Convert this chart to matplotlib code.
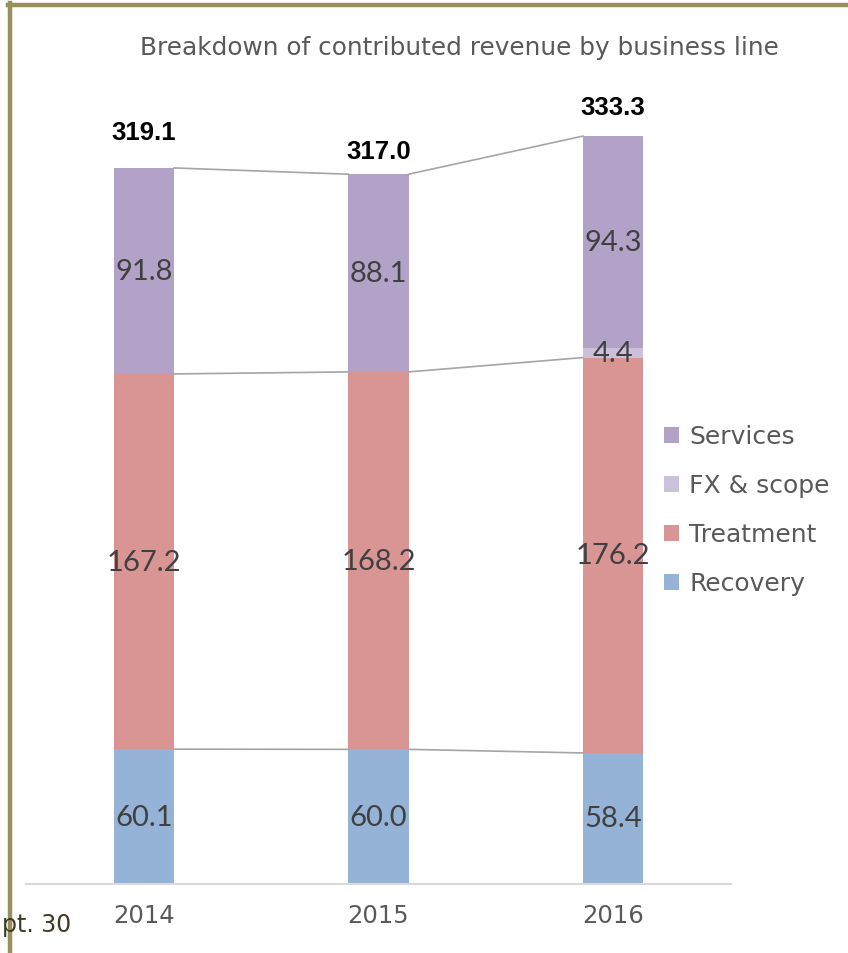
import numpy as np
import matplotlib
matplotlib.use("Agg")
import matplotlib.pyplot as plt
from matplotlib.lines import Line2D

# Datos (millones)
years = ["2014", "2015", "2016"]
recovery = [60.1, 60.0, 58.4]
treatment = [167.2, 168.2, 176.2]
fx_scope = [0.0, 0.0, 4.4]
services = [91.8, 88.1, 94.3]
totals = ["319.1", "317.0", "333.3"]

c_services = "#B3A2C7"
c_fx = "#CCC1DA"
c_treat = "#D99594"
c_recov = "#95B3D7"
c_text = "#595959"

fig = plt.figure(figsize=(8.48, 9.54), dpi=100)
ax = fig.add_axes([26 / 848, 1 - 885 / 954, 705 / 848, 785 / 954])

x = np.arange(len(years))
w = 0.256
b1 = np.array(recovery)
b2 = b1 + np.array(treatment)
b3 = b2 + np.array(fx_scope)
top = b3 + np.array(services)

ax.bar(x, recovery, w, color=c_recov, label="Recovery")
ax.bar(x, treatment, w, bottom=b1, color=c_treat, label="Treatment")
ax.bar(x, fx_scope, w, bottom=b2, color=c_fx, label="FX & scope")
ax.bar(x, services, w, bottom=b3, color=c_services, label="Services")

# lineas de conexion entre barras
for level in (b1, b2, top):
    for i in range(len(x) - 1):
        ax.plot([x[i] + w / 2, x[i + 1] - w / 2], [level[i], level[i + 1]],
                color="#A5A5A5", lw=1.2, zorder=1)

# etiquetas de segmentos
lab_kw = dict(ha="center", va="center", fontsize=21, color="#404040", family="Lato")
for i in range(len(x)):
    ax.text(x[i], recovery[i] / 2, f"{recovery[i]:.1f}", **lab_kw)
    ax.text(x[i], b1[i] + treatment[i] / 2, f"{treatment[i]:.1f}", **lab_kw)
    if fx_scope[i] > 0:
        ax.text(x[i], b2[i] + fx_scope[i] / 2, f"{fx_scope[i]:.1f}", **lab_kw)
    ax.text(x[i], b3[i] + services[i] / 2, f"{services[i]:.1f}", **lab_kw)

# totales
offsets = [36, 23, 29]
for i in range(len(x)):
    ax.annotate(totals[i], (x[i], top[i]), xytext=(0, offsets[i]),
                textcoords="offset pixels", ha="center", va="center",
                fontsize=18.5, fontweight="bold", color="black",
                family="Liberation Sans")

ax.set_xlim(-0.503, 2.503)
ax.set_ylim(0, 785 / 2.244)
ax.set_xticks(x)
ax.set_xticklabels(years, fontsize=17.5, color=c_text)
ax.tick_params(axis="x", length=0, pad=14)
ax.set_yticks([])
for s in ["left", "right", "top"]:
    ax.spines[s].set_visible(False)
ax.spines["bottom"].set_color("#D9D9D9")
ax.spines["bottom"].set_linewidth(1.5)

handles, labels = ax.get_legend_handles_labels()
fig.legend(handles[::-1], labels[::-1], loc="center left",
           bbox_to_anchor=(664 / 848, 1 - 511 / 954), frameon=False,
           fontsize=18, labelcolor=c_text, handlelength=0.6, handleheight=0.6,
           handletextpad=0.4, labelspacing=1.0, borderpad=0, borderaxespad=0)

fig.text(459 / 848, 1 - 48 / 954, "Breakdown of contributed revenue by business line",
         ha="center", va="center", fontsize=17.8, color=c_text)

# marco de la diapositiva
border = "#978F5C"
fig.add_artist(Line2D([8 / 848, 1], [1 - 6 / 954, 1 - 6 / 954], color=border, lw=3.2))
fig.add_artist(Line2D([10 / 848, 10 / 848], [0, 1 - 4 / 954], color=border, lw=3.2))
fig.text(2 / 848, 1 - 925 / 954, "pt. 30", ha="left", va="center",
         fontsize=17, color="#3F3A26")

plt.savefig("out.png", dpi=100)
